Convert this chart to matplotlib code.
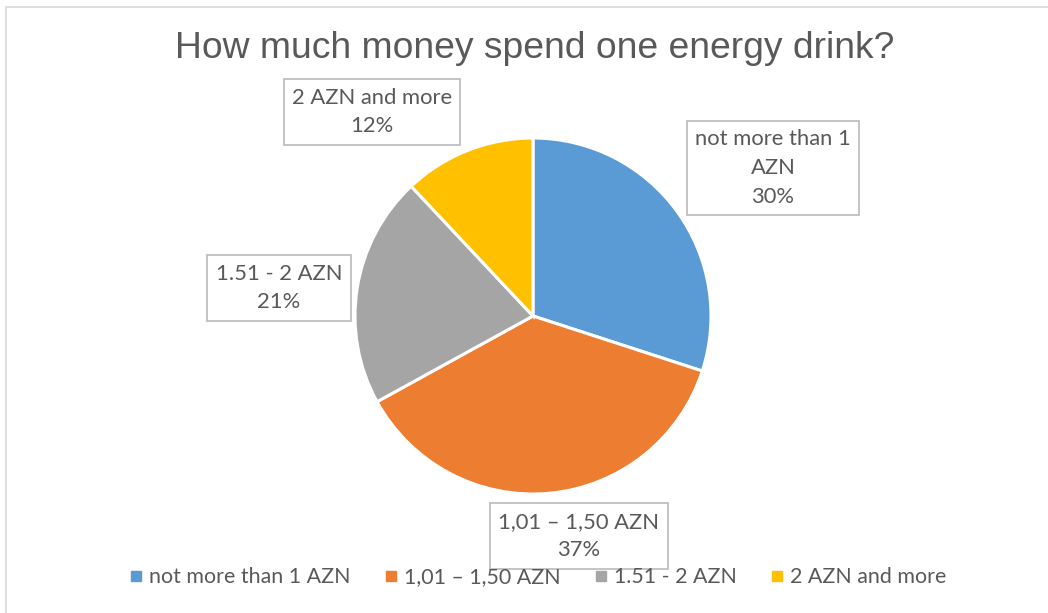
import matplotlib
matplotlib.use("Agg")
import matplotlib.pyplot as plt
from matplotlib.patches import Rectangle
from matplotlib.lines import Line2D

categories = ["not more than 1 AZN", "1,01 – 1,50 AZN", "1.51 - 2 AZN", "2 AZN and more"]
values = [30, 37, 21, 12]
label_texts = ["not more than 1\nAZN", "1,01 – 1,50 AZN", "1.51 - 2 AZN", "2 AZN and more"]
colors = ["#5B9BD5", "#ED7D31", "#A5A5A5", "#FFC000"]
title = "How much money spend one energy drink?"

W, H = 1048, 613
fig = plt.figure(figsize=(W / 100, H / 100), dpi=100)
fig.patch.set_facecolor("white")

# chart border
fig.patches.append(Rectangle((6 / W, -0.05), 1.2, (H - 7) / H + 0.05, transform=fig.transFigure,
                             fill=False, edgecolor="#D9D9D9", lw=1.2))

cx, cy, r = 533, 316, 178
ax = fig.add_axes([(cx - r) / W, (H - cy - r) / H, 2 * r / W, 2 * r / H])
ax.pie(values, colors=colors, startangle=90, counterclock=False,
       wedgeprops=dict(edgecolor="white", linewidth=2.2))
ax.set_xlim(-1, 1)
ax.set_ylim(-1, 1)
ax.set_aspect("equal")
ax.axis("off")

txtc = "#595959"
font = "Lato"
label_pos_px = [(773, 168), (579, 536), (279, 288), (372, 112)]
for (px, py), lt, v in zip(label_pos_px, label_texts, values):
    x = (px - cx) / r
    y = (cy - py) / r
    ax.text(x, y, f"{lt}\n{v}%", ha="center", va="center", fontsize=15.8, family=font,
            color=txtc, linespacing=1.55, clip_on=False,
            bbox=dict(boxstyle="square,pad=0.38", fc="white", ec="#BFBFBF", lw=1.3))

fig.text(535 / W, 1 - 49 / H, title, ha="center", va="center", fontsize=26.8,
         family="Liberation Sans", color=txtc)

handles = [Line2D([0], [0], marker="s", linestyle="none", markersize=7,
                  markerfacecolor=c, markeredgecolor=c) for c in colors]
leg = fig.legend(handles, categories, loc="center", bbox_to_anchor=(538 / W, 1 - 577 / H),
                 ncol=4, frameon=False, prop=dict(family=font, size=15.4),
                 handlelength=0.6, handletextpad=0.3, columnspacing=1.6, labelcolor=txtc)

fig.savefig("out.png", dpi=100, facecolor="white")
